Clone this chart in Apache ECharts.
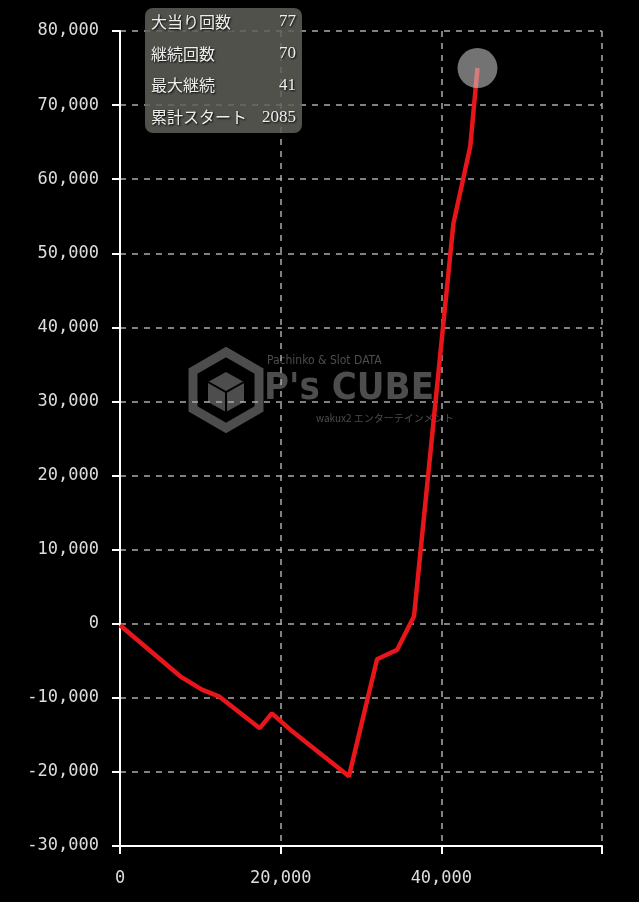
<!DOCTYPE html>
<html>
<head>
<meta charset="utf-8">
<script src="https://cdn.jsdelivr.net/npm/echarts@6/dist/echarts.min.js"></script>
<style>
  html, body { margin: 0; padding: 0; background: #000; }
  #chart { width: 639px; height: 902px; }
</style>
</head>
<body>
<div id="chart"></div>
<script>
// 累計スタート (x) と 差枚 (y)
var startCounts = [0, 7500, 10200, 12300, 17400, 18900, 21200, 28500, 32000, 34500, 36600, 41500, 43600, 44500];
var diffValues = [-200, -7100, -8900, -9800, -14100, -12100, -14300, -20600, -4800, -3500, 1000, 54000, 64400, 75000];

var statLabels = ["大当り回数", "継続回数", "最大継続", "累計スタート"];
var statValues = ["77", "70", "41", "2085"];

var points = startCounts.map(function (x, i) { return [x, diffValues[i]]; });
var lastPoint = points[points.length - 1];

var myChart = echarts.init(document.getElementById("chart"));

var numFmt = function (v) { return v.toLocaleString("en-US"); };
var mono = "DejaVu Sans Mono";
var jp = "Noto Sans CJK JP";

var gfx = [];
// watermark (behind grid)
var wm = "#4d4d4d";
gfx.push({
  type: "polygon", z: -10, silent: true,
  shape: { points: [[226, 352], [259, 371], [259, 409], [226, 428], [193, 409], [193, 371]] },
  style: { fill: "none", stroke: wm, lineWidth: 9 }
});
gfx.push({
  type: "polygon", z: -10, silent: true,
  shape: { points: [[226, 372], [244, 382], [244, 402], [226, 412], [208, 402], [208, 382]] },
  style: { fill: wm }
});
gfx.push({
  type: "polyline", z: -10, silent: true,
  shape: { points: [[208, 382], [226, 392], [244, 382]] },
  style: { stroke: "#000", lineWidth: 2, fill: "none" }
});
gfx.push({
  type: "line", z: -10, silent: true,
  shape: { x1: 226, y1: 392, x2: 226, y2: 412 },
  style: { stroke: "#000", lineWidth: 2 }
});
gfx.push({
  type: "text", z: -10, silent: true, left: 267, top: 355,
  style: { text: "Pachinko & Slot DATA", fill: wm, font: "12px 'DejaVu Sans Condensed'" }
});
gfx.push({
  type: "text", z: -10, silent: true, left: 264, top: 370,
  style: { text: "P's CUBE", fill: wm, font: "bold 38px 'DejaVu Sans Condensed'" }
});
gfx.push({
  type: "text", z: -10, silent: true, left: 316, top: 413,
  style: { text: "wakux2 エンターテインメント", fill: wm, font: "10px " + jp }
});

// info box
gfx.push({
  type: "rect", z: 100, left: 145, top: 8,
  shape: { width: 157, height: 125, r: 8 },
  style: { fill: "rgba(95,95,88,0.85)" }
});
statLabels.forEach(function (lab, i) {
  var y = 22 + i * 31.7;
  gfx.push({
    type: "text", z: 101, x: 151, y: y,
    style: {
      text: lab, fill: "#eee", font: "16px " + jp, textVerticalAlign: "middle",
      textShadowColor: "#000", textShadowBlur: 2, textShadowOffsetX: 1, textShadowOffsetY: 1
    }
  });
  gfx.push({
    type: "text", z: 101, x: 296, y: y,
    style: {
      text: statValues[i], fill: "#eee", font: "17px 'Liberation Serif'",
      textAlign: "right", textVerticalAlign: "middle",
      textShadowColor: "#000", textShadowBlur: 2, textShadowOffsetX: 1, textShadowOffsetY: 1
    }
  });
});

var option = {
  backgroundColor: "#000",
  animation: false,
  grid: { left: 120, right: 37, top: 31, bottom: 56 },
  xAxis: {
    type: "value",
    min: 0, max: 60000, interval: 20000,
    axisLine: { onZero: false, lineStyle: { color: "#fff", width: 2 } },
    axisTick: { show: true, length: 8, lineStyle: { color: "#fff", width: 2 } },
    axisLabel: {
      color: "#ddd", fontFamily: mono, fontSize: 17, margin: 24,
      formatter: function (v) { return v === 60000 ? "" : numFmt(v); }
    },
    splitLine: { show: true, lineStyle: { color: "#aaa", type: [6, 6], width: 1.5 } }
  },
  yAxis: {
    type: "value",
    min: -30000, max: 80000, interval: 10000,
    axisLine: { show: true, onZero: false, lineStyle: { color: "#fff", width: 2 } },
    axisTick: { show: true, length: 8, lineStyle: { color: "#fff", width: 2 } },
    axisLabel: { color: "#ddd", fontFamily: mono, fontSize: 17, margin: 21, formatter: numFmt },
    splitLine: { show: true, lineStyle: { color: "#aaa", type: [6, 6], width: 1.5 } }
  },
  graphic: gfx,
  series: [
    {
      type: "line",
      data: points,
      showSymbol: false,
      lineStyle: { color: "#e8161b", width: 4.5 },
      z: 3
    },
    {
      type: "scatter",
      data: [lastPoint],
      symbolSize: 40,
      itemStyle: { color: "rgba(200,200,200,0.72)" },
      z: 4
    }
  ]
};

myChart.setOption(option);
</script>
</body>
</html>
